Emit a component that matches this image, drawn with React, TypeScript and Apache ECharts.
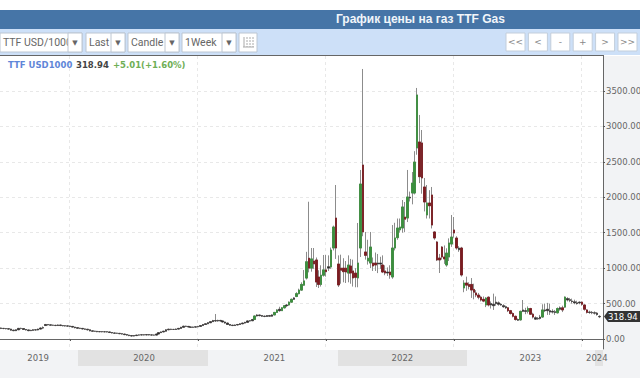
import React, { useEffect, useRef } from "react";
import * as echarts from "echarts";

// [open, close, low, high] for each week
const candles: number[][] = [
[155,150,140,162],[150,148,138,156],[148,145,136,154],[145,140,130,150],[140,125,118,145],[125,118,110,130],[118,130,112,136],[130,150,126,156],
[150,148,136,160],[148,135,128,152],[135,128,120,140],[128,118,110,132],[118,122,112,130],[122,130,116,136],[130,128,118,138],[128,140,122,146],
[140,155,134,165],[155,160,140,178],[190,205,185,212],[205,200,190,210],[200,195,186,206],[195,193,184,202],[193,190,182,200],[190,198,184,206],
[198,190,182,204],[190,187,178,198],[187,185,176,194],[185,182,174,192],[182,178,170,188],[178,168,160,182],[168,160,150,172],[160,152,144,165],
[152,150,140,158],[150,142,134,155],[142,138,128,148],[138,130,120,142],[130,115,108,134],[115,110,102,120],[110,108,100,116],[108,103,96,114],
[103,105,96,112],[105,102,94,110],[102,103,94,110],[103,100,92,108],[100,92,84,104],[92,85,78,96],[85,82,74,90],[82,80,72,88],
[80,75,68,84],[75,70,62,80],[70,62,54,74],[62,55,46,68],[55,48,40,60],[48,42,34,52],[42,48,36,54],[48,55,42,60],
[55,58,48,64],[58,60,50,66],[60,58,50,66],[58,62,52,68],[62,58,50,68],[58,56,48,64],[56,55,46,62],[55,70,50,76],
[70,90,66,96],[90,100,84,106],[100,110,94,116],[110,130,104,138],[130,138,124,146],[138,135,126,144],[135,135,128,142],[135,140,128,148],
[140,150,134,156],[150,165,146,172],[165,180,160,188],[180,178,168,188],[178,170,162,184],[170,165,156,176],[165,168,158,175],[168,172,160,180],
[172,178,166,185],[178,190,172,198],[190,205,186,212],[205,215,198,222],[215,230,210,238],[230,245,224,252],[245,260,240,270],[260,255,240,353],
[255,262,244,272],[262,255,244,270],[255,240,232,262],[240,225,216,246],[225,205,198,232],[205,195,186,212],[195,190,182,200],[190,198,184,205],
[198,205,192,212],[205,215,198,222],[215,225,208,232],[225,235,218,242],[235,255,230,262],[255,258,246,266],[258,275,252,284],[275,325,270,332],
[325,339,318,350],[339,330,320,345],[330,322,312,338],[322,318,308,330],[318,330,312,338],[330,322,312,340],[322,340,316,348],[340,375,335,382],
[375,410,370,420],[420,400,385,455],[400,440,395,450],[440,470,430,480],[470,480,450,495],[480,520,470,530],[520,560,510,570],[560,580,550,590],
[600,640,590,660],[640,690,630,710],[690,770,680,800],[760,820,750,973],[860,1090,840,1230],[1140,1000,940,1937],[1000,1130,950,1284],[1100,1060,990,1284],
[1115,804,734,1150],[875,770,720,970],[770,900,740,1040],[900,975,880,1185],[975,950,880,1185],[1000,1020,960,1180],[1016,1256,990,1290],[1284,1580,1250,1600],
[1707,1284,1130,2173],[1058,762,734,1180],[1000,970,780,1190],[1000,950,800,1140],[1000,945,790,1100],[930,1044,800,1180],[1030,931,780,1130],[960,861,740,1120],
[930,870,730,1000],[861,1072,730,1637],[1284,2187,1157,2385],[2455,1510,1450,3810],[1228,1180,1120,1510],[1100,1140,1050,1400],[1072,1298,1000,1510],[1072,1030,960,1150],
[1072,1044,960,1220],[1058,1072,930,1200],[1072,1058,990,1160],[1044,945,930,1180],[960,931,900,1040],[945,931,890,1010],[945,905,850,1040],[875,1284,850,1608],
[1284,1426,1250,1640],[1430,1566,1400,1700],[1540,1580,1500,1700],[1566,1863,1500,1961],[1720,1690,1510,1933],[1707,2004,1650,2385],[2000,1990,1940,2080],[2060,2200,1900,2356],
[2060,2497,2040,2650],[2695,3443,2600,3542],[2780,2290,2200,3161],[2766,2272,2050,2949],[2145,1933,1800,2272],[1750,1919,1700,2173],[1919,1880,1700,2100],[2032,1608,1560,2145],
[1510,1425,1400,1520],[1369,1115,1100,1380],[1143,1115,931,1200],[1298,1157,1120,1310],[1157,1130,1060,1320],[1044,1213,1020,1280],[1157,1355,1100,1420],[1340,1439,1300,1750],
[1538,1496,1430,1721],[1425,1284,1260,1450],[1284,1260,1230,1310],[1284,903,880,1300],[720,790,660,830],[790,760,680,880],[770,740,700,800],[770,691,580,860],
[700,660,560,780],[650,620,590,690],[620,590,560,650],[590,550,530,610],[560,535,520,600],[480,578,450,590],[590,480,460,600],[500,480,430,530],
[490,470,410,640],[500,520,470,600],[510,490,470,530],[490,480,470,505],[470,455,440,490],[455,440,425,470],[440,400,380,450],[400,360,345,410],
[360,320,305,375],[320,275,260,330],[275,265,255,290],[270,390,260,400],[390,410,380,550],[390,400,350,440],[390,430,360,460],[430,350,340,440],
[350,310,290,370],[300,280,270,320],[290,285,270,310],[290,310,275,340],[310,410,300,490],[410,400,380,500],[420,400,340,510],[400,380,340,500],
[390,380,360,420],[385,375,340,410],[370,430,360,445],[420,440,400,460],[440,410,380,470],[450,592,440,600],[570,550,530,590],[555,545,520,580],
[535,530,500,570],[525,510,490,555],[510,500,485,540],[510,520,490,530],[520,490,470,530],[480,420,400,490],[410,375,360,420],[380,375,355,400],
[375,370,350,395],[370,365,345,390],[365,345,330,380],[314,319,295,335],
];

const firstWeek = "2019-06-17";
const yearLabels: Record<number, string> = { 15: "2019", 58: "2020", 111: "2021", 163: "2022", 215: "2023", 242: "2024" };
const yearStartWeeks = [28, 80, 132, 184, 236];
const yTicks = [0, 500, 1000, 1500, 2000, 2500, 3000, 3500];
const selects = [
  { label: "TTF USD/1000", x: 0, w: 82 },
  { label: "Last", x: 86, w: 39 },
  { label: "Candle", x: 128, w: 51 },
  { label: "1Week", x: 182, w: 54 },
];
const navButtons = ["<<", "<", "-", "+", ">", ">>"];
const lastPrice = "318.94";
const lastClose = 318.94;

const weeks = Array.from({ length: 245 }, (_, i) => {
  const d = new Date(firstWeek + "T00:00:00Z");
  d.setUTCDate(d.getUTCDate() + i * 7);
  return d.toISOString().slice(0, 10);
});

const GREEN = "#3b8f3e";
const RED = "#7b1b20";
const DARK = "#2e2a2a";
const WICK = "#8c8c8c";
const PANEL = "#f2f3f5";
const BAND = "#e2e2e2";
const TEXT = "#666";
const MONO = "'DejaVu Sans', sans-serif";

function toolbar(): any[] {
  const els: any[] = [
    { type: "rect", z: 0, shape: { x: 0, y: 10, width: 640, height: 19 }, style: { fill: "#4675a7" } },
    { type: "rect", z: 0, shape: { x: 0, y: 29, width: 640, height: 26 }, style: { fill: "#cde0f8" } },
    { type: "rect", z: 0, shape: { x: 604, y: 56, width: 36, height: 294 }, style: { fill: PANEL } },
    { type: "rect", z: 0, shape: { x: 0, y: 350, width: 640, height: 28 }, style: { fill: PANEL } },
    { type: "rect", z: 0, shape: { x: 78, y: 350, width: 130, height: 16 }, style: { fill: BAND } },
    { type: "rect", z: 0, shape: { x: 338, y: 350, width: 129, height: 16 }, style: { fill: BAND } },
    { type: "rect", z: 0, shape: { x: 595, y: 350, width: 8, height: 16 }, style: { fill: BAND } },
    { type: "rect", z: 20, shape: { x: 0, y: 55, width: 604, height: 1 }, style: { fill: "#666" } },
  ];
  selects.forEach((s) => {
    els.push({ type: "rect", z: 21, shape: { x: s.x, y: 33, width: s.w, height: 19 }, style: { fill: "#fff", stroke: "#bcc6d2", lineWidth: 1 } });
    els.push({ type: "text", z: 22, x: s.x + 3, y: 42.5, style: { text: s.label, fill: TEXT, font: "10.5px Roboto", verticalAlign: "middle" } });
    els.push({ type: "rect", z: 23, shape: { x: s.x + s.w - 14, y: 33, width: 14, height: 19 }, style: { fill: "#fff", stroke: "#bcc6d2", lineWidth: 1 } });
    els.push({ type: "text", z: 24, x: s.x + s.w - 7, y: 42.5, style: { text: "▼", fill: "#666", font: "7px 'DejaVu Sans'", align: "center", verticalAlign: "middle" } });
  });
  els.push({ type: "rect", z: 21, shape: { x: 239, y: 33, width: 18, height: 19 }, style: { fill: "#fff", stroke: "#bcc6d2", lineWidth: 1 } });
  [244, 247, 250, 253].forEach((x) => {
    els.push({ type: "line", z: 22, shape: { x1: x, y1: 37, x2: x, y2: 47 }, style: { stroke: "#aaa", lineWidth: 1, lineDash: x === 244 ? undefined : [2, 1] } });
  });
  els.push({ type: "line", z: 22, shape: { x1: 243, y1: 47, x2: 254, y2: 47 }, style: { stroke: "#aaa", lineWidth: 1 } });
  navButtons.forEach((b, i) => {
    const x = 506 + i * 22.4;
    els.push({ type: "rect", z: 21, shape: { x, y: 33, width: 19, height: 18 }, style: { fill: "#fff", stroke: "#c3cedb", lineWidth: 1 } });
    els.push({ type: "text", z: 22, x: x + 9.5, y: 42, style: { text: b, fill: "#888", font: "9px 'DejaVu Sans'", align: "center", verticalAlign: "middle" } });
  });
  els.push({ type: "text", z: 22, x: 8, y: 64.5, style: { text: "TTF USD1000", fill: "#5f86d8", font: "bold 8.5px 'DejaVu Sans'", verticalAlign: "middle" } });
  els.push({ type: "text", z: 22, x: 76, y: 64.5, style: { text: "318.94", fill: "#444", font: "bold 8.5px 'DejaVu Sans'", verticalAlign: "middle" } });
  els.push({ type: "text", z: 22, x: 113, y: 64.5, style: { text: "+5.01(+1.60%)", fill: "#6fae55", font: "bold 8.5px 'DejaVu Sans'", verticalAlign: "middle" } });
  return els;
}

export default function App() {
  const ref = useRef<HTMLDivElement>(null);
  useEffect(() => {
    document.body.style.margin = "0";
    document.body.style.overflow = "hidden";
    const chart = echarts.init(ref.current!, undefined, { renderer: "svg" });
    const showYear = (i: number) => yearStartWeeks.includes(i);
    chart.setOption({
      animation: false,
      backgroundColor: "#fff",
      title: {
        text: "График цены на газ TTF Gas",
        left: 331,
        top: 8,
        textStyle: { color: "#f1f5fa", fontSize: 12, fontWeight: "bold", fontFamily: "'Liberation Sans', Arial, sans-serif" },
      },
      grid: { left: 0, right: 37, top: 56, bottom: 29, outerBoundsMode: "none" },
      xAxis: {
        type: "category",
        data: weeks,
        boundaryGap: true,
        axisLine: { show: true, lineStyle: { color: "#666", width: 1 } },
        axisTick: { show: true, alignWithLabel: true, length: 2, interval: (i: number) => showYear(i), lineStyle: { color: "#555" } },
        axisLabel: {
          show: true,
          interval: (i: number) => yearLabels[i] !== undefined,
          formatter: (_: string, i: number) => yearLabels[i] ?? "",
          color: TEXT,
          fontFamily: MONO,
          fontSize: 8.5,
          margin: 4,
          hideOverlap: false,
        },
        splitLine: { show: true, interval: (i: number) => showYear(i), lineStyle: { color: "#e8e8e8", type: [3, 3], width: 1 } },
      },
      yAxis: {
        type: "value",
        position: "right",
        min: -141,
        max: 3993,
        axisLine: { show: true, lineStyle: { color: "#666", width: 1 } },
        axisTick: { show: true, length: 2, inside: false, customValues: yTicks, lineStyle: { color: "#555" } },
        axisLabel: {
          show: true,
          customValues: yTicks,
          formatter: (v: number) => v.toFixed(2),
          color: TEXT,
          fontFamily: MONO,
          fontSize: 8.5,
          margin: 3,
          align: "left",
        },
        splitLine: { show: true, lineStyle: { color: "#e8e8e8", type: [3, 3], width: 1 } },
      },
      series: [
        {
          type: "candlestick",
          name: "wicks",
          data: candles,
          barWidth: 2,
          silent: true,
          itemStyle: { color: WICK, color0: WICK, borderColor: WICK, borderColor0: WICK, borderWidth: 1 },
        },
        {
          type: "candlestick",
          name: "TTF USD1000",
          data: candles.map(([o, c]) => {
            const value = [o, c, Math.min(o, c), Math.max(o, c)];
            if (Math.abs(o - c) >= 25) return value;
            return { value, itemStyle: { color: DARK, color0: DARK, borderColor: DARK, borderColor0: DARK, borderWidth: 0.5 } };
          }),
          barWidth: 2,
          z: 3,
          itemStyle: { color: GREEN, color0: RED, borderColor: GREEN, borderColor0: RED, borderWidth: 0.8 },
        },
      ],
      graphic: toolbar(),
    });
    const y = chart.convertToPixel({ yAxisIndex: 0 }, lastClose) as number;
    chart.setOption({
      graphic: [
        ...toolbar(),
        { type: "polygon", z: 25, shape: { points: [[604, y], [608, y - 5.5], [640, y - 5.5], [640, y + 5.5], [608, y + 5.5]] }, style: { fill: "#333" } },
        { type: "text", z: 26, x: 608, y: y + 0.5, style: { text: lastPrice, fill: "#fff", font: "8.5px 'DejaVu Sans'", verticalAlign: "middle" } },
      ],
    });
    return () => chart.dispose();
  }, []);
  return <div ref={ref} style={{ width: 640, height: 378 }} />;
}
